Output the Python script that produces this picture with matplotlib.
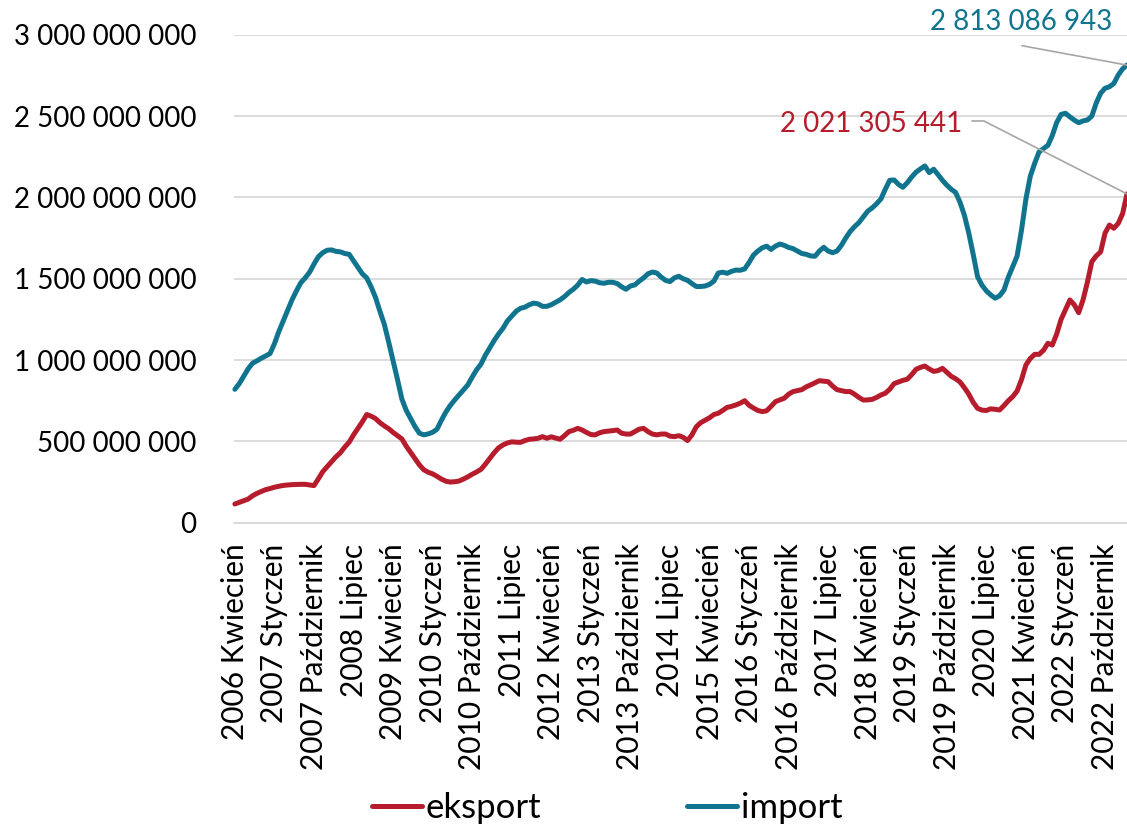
import matplotlib
matplotlib.use("Agg")
import matplotlib.pyplot as plt
from matplotlib.ticker import FuncFormatter

# ---- data (millions PLN, monthly, 2006 Kwiecień .. 2023 Marzec) ----
eksport_mln = [
    115, 125, 135, 145, 165, 180, 192, 203, 210, 218,
    224, 229, 232, 234, 235, 236, 236, 232, 228, 270,
    314, 345, 375, 405, 430, 465, 495, 540, 580, 620,
    665, 655, 640, 615, 595, 578, 555, 535, 515, 470,
    432, 395, 355, 325, 310, 300, 285, 268, 255, 250,
    252, 256, 268, 282, 298, 312, 328, 360, 395, 430,
    460, 478, 490, 497, 495, 494, 505, 513, 515, 519,
    529, 519, 528, 520, 513, 535, 560, 568, 580, 570,
    555, 542, 540, 553, 560, 563, 566, 570, 550, 545,
    545, 560, 575, 580, 560, 545, 540, 545, 545, 532,
    529, 535, 525, 505, 540, 590, 615, 630, 645, 665,
    673, 690, 709, 715, 724, 735, 750, 722, 705, 690,
    683, 688, 715, 744, 755, 765, 790, 806, 812, 818,
    835, 847, 860, 873, 870, 867, 840, 818, 812, 806,
    806, 790, 770, 754, 755, 758, 770, 785, 796, 820,
    855, 865, 875, 882, 910, 943, 955, 963, 945, 930,
    935, 949, 925, 900, 885, 865, 830, 790, 740, 703,
    692, 690, 700, 697, 693, 720, 750, 775, 810, 880,
    970, 1010, 1035, 1035, 1060, 1103, 1092, 1160, 1250, 1310,
    1369, 1340, 1291, 1370, 1480, 1605, 1640, 1665, 1780, 1830,
    1810, 1840, 1900, 2021.305441,
]
import_mln = [
    820, 855, 900, 945, 980, 995, 1011, 1025, 1040, 1100,
    1175, 1240, 1305, 1370, 1425, 1475, 1505, 1540, 1590, 1635,
    1660, 1675, 1677, 1668, 1665, 1655, 1650, 1610, 1570, 1530,
    1505, 1450, 1385, 1300, 1220, 1110, 995, 880, 760, 690,
    640, 590, 550, 540, 546, 556, 575, 630, 680, 720,
    754, 785, 815, 847, 895, 940, 975, 1030, 1075, 1120,
    1160, 1195, 1240, 1270, 1300, 1318, 1325, 1340, 1350, 1345,
    1330, 1330, 1340, 1355, 1370, 1390, 1415, 1435, 1460, 1495,
    1480, 1488, 1485, 1475, 1472, 1478, 1478, 1470, 1450, 1435,
    1455, 1462, 1485, 1505, 1530, 1541, 1535, 1510, 1490, 1482,
    1505, 1515, 1500, 1490, 1470, 1452, 1452, 1455, 1465, 1485,
    1535, 1540, 1533, 1545, 1553, 1552, 1560, 1600, 1645, 1670,
    1690, 1700, 1680, 1700, 1713, 1705, 1692, 1685, 1670, 1655,
    1650, 1640, 1638, 1670, 1693, 1670, 1660, 1670, 1705, 1750,
    1790, 1820, 1845, 1880, 1915, 1935, 1960, 1990, 2050, 2105,
    2107, 2080, 2062, 2090, 2125, 2155, 2175, 2193, 2152, 2173,
    2140, 2105, 2075, 2050, 2030, 1970, 1890, 1780, 1650, 1512,
    1460, 1425, 1400, 1380, 1395, 1430, 1510, 1574, 1640, 1800,
    1990, 2130, 2210, 2280, 2300, 2320, 2380, 2460, 2510, 2517,
    2495, 2475, 2459, 2470, 2476, 2500, 2580, 2640, 2671, 2680,
    2700, 2752, 2790, 2813.086943,
]
tick_labels = [
    "2006 Kwiecień", "2007 Styczeń", "2007 Październik", "2008 Lipiec",
    "2009 Kwiecień", "2010 Styczeń", "2010 Październik", "2011 Lipiec",
    "2012 Kwiecień", "2013 Styczeń", "2013 Październik", "2014 Lipiec",
    "2015 Kwiecień", "2016 Styczeń", "2016 Październik", "2017 Lipiec",
    "2018 Kwiecień", "2019 Styczeń", "2019 Październik", "2020 Lipiec",
    "2021 Kwiecień", "2022 Styczeń", "2022 Październik",
]
tick_step = 9
eksport_last_label = "2 021 305 441"
import_last_label = "2 813 086 943"

eksport = [v * 1e6 for v in eksport_mln]
imp = [v * 1e6 for v in import_mln]
x = list(range(len(eksport)))

RED = "#B71C2C"
TEAL = "#10748F"
GRID = "#D9D9D9"
LEADER = "#A6A6A6"

plt.rcParams['font.family'] = ['Lato', 'DejaVu Sans']
FS_Y = 20
FS_X = 21.5
FS_LEG = 25

W, H = 1127, 827
fig = plt.figure(figsize=(W / 100, H / 100), dpi=100)
ax = fig.add_axes([234 / W, 1 - 522.7 / H, (W - 234) / W, (522.7 - 34.7) / H])

l1, = ax.plot(x, eksport, color=RED, lw=3.6, solid_capstyle='round',
              solid_joinstyle='round', label='eksport', clip_on=False)
l2, = ax.plot(x, imp, color=TEAL, lw=3.6, solid_capstyle='round',
              solid_joinstyle='round', label='import', clip_on=False)

ax.set_xlim(-0.2, len(x) - 1)
ax.set_ylim(0, 3e9)
ax.set_yticks([i * 5e8 for i in range(7)])
ax.yaxis.set_major_formatter(FuncFormatter(lambda v, p: f"{int(round(v)):,}".replace(",", " ")))
ax.set_xticks(list(range(0, tick_step * len(tick_labels), tick_step)))
ax.set_xticklabels(tick_labels, rotation=90, va='top', ha='center')

ax.grid(axis='y', color=GRID, lw=1.3)
ax.set_axisbelow(True)
for s in ['top', 'right', 'left']:
    ax.spines[s].set_visible(False)
ax.spines['bottom'].set_color(GRID)
ax.spines['bottom'].set_linewidth(1.3)
ax.tick_params(axis='both', length=0, colors='black')
ax.tick_params(axis='y', pad=27, labelsize=FS_Y)
ax.tick_params(axis='x', pad=15, labelsize=FS_X)

# data labels with leader lines
ax.annotate(import_last_label, xy=(x[-1], imp[-1]), xycoords='data',
            xytext=(1021, H - 22), textcoords='figure pixels',
            ha='center', va='center', fontsize=FS_Y, color=TEAL, annotation_clip=False)
ax.annotate('', xy=(x[-1], imp[-1]), xycoords='data',
            xytext=(1022, H - 45.7), textcoords='figure pixels',
            arrowprops=dict(arrowstyle='-', color=LEADER, lw=1.2, shrinkA=0, shrinkB=0),
            annotation_clip=False)
ax.annotate(eksport_last_label, xy=(x[-1], eksport[-1]), xycoords='data',
            xytext=(871, H - 124), textcoords='figure pixels',
            ha='center', va='center', fontsize=FS_Y, color=RED, annotation_clip=False)
ax.annotate('', xy=(x[-1], eksport[-1]), xycoords='data',
            xytext=(972, H - 121), textcoords='figure pixels',
            arrowprops=dict(arrowstyle='-', color=LEADER, lw=1.2, shrinkA=0, shrinkB=0,
                            connectionstyle='angle,angleA=0,angleB=153,rad=0'),
            annotation_clip=False)

fig.legend(handles=[l1, l2], loc='center', bbox_to_anchor=(607 / W, 1 - 808 / H),
           ncol=2, frameon=False, fontsize=FS_LEG, handlelength=1.45, handletextpad=0.1,
           columnspacing=4.2)

fig.savefig("out.png", dpi=100)
